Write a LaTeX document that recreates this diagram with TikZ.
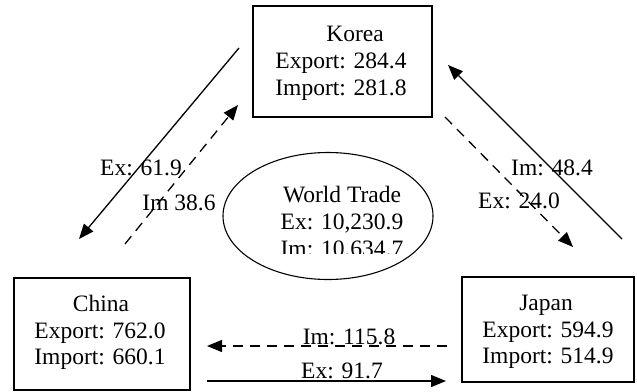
\documentclass[tikz,border=0pt]{standalone}
\usepackage{fontspec}
\setmainfont{Liberation Serif}
\usetikzlibrary{arrows.meta}
\tikzset{
  country/.style={draw, line width=1.1pt, inner sep=0pt},
  txt/.style={font=\fontsize{23.5}{27}\selectfont, inner sep=0pt, anchor=base},
  flow/.style={line width=1.3pt, -{Triangle[length=15pt,width=12pt]}},
  flowdash/.style={flow, dash pattern=on 10pt off 7pt},
}
\begin{document}
\begin{tikzpicture}[x=1pt,y=-1pt]
\useasboundingbox (0,0) rectangle (637,391);
% country boxes
\draw[country] (253,6) rectangle (432,117);
\draw[country] (14,278) rectangle (190,390);
\draw[country] (462,277) rectangle (634,382);
% box texts
\node[txt] (kt) at (355,41) {Korea};
\node[txt] (ke) at (341,68) {Export: 284.4};
\node[txt] (ki) at (341,95) {Import: 281.8};
\node[txt] (ct) at (101,311) {China};
\node[txt] (ce) at (100,338) {Export: 762.0};
\node[txt] (ci) at (100,364) {Import: 660.1};
\node[txt] (jt) at (546,310) {Japan};
\node[txt] (je) at (548,337) {Export: 594.9};
\node[txt] (ji) at (548,363) {Import: 514.9};
% world trade ellipse
\draw[line width=1.1pt] (328,216) ellipse [x radius=105, y radius=63.5];
\node[txt] (wt) at (342,202) {World Trade};
\node[txt] (we) at (342,229) {Ex: 10,230.9};
\begin{scope}
  \clip (260,235) rectangle (425,253);
  \node[txt] (wi) at (342,256) {Im: 10,634.7};
\end{scope}
% flow end points
\coordinate (kc1) at (239,48);
\coordinate (kc2) at (79,239);
\coordinate (ck1) at (125,244);
\coordinate (ck2) at (238,105);
\coordinate (jk1) at (622,239);
\coordinate (jk2) at (448,65);
\coordinate (kj1) at (445,117);
\coordinate (kj2) at (573,247);
\coordinate (jc1) at (447,346);
\coordinate (jc2) at (207,346);
\coordinate (cj1) at (207,381);
\coordinate (cj2) at (446,381);
% flows
\draw[flow] (kc1) -- (kc2);
\draw[flowdash] (ck1) -- (ck2);
\draw[flow] (jk1) -- (jk2);
\draw[flowdash] (kj1) -- (kj2);
\draw[flowdash] (jc1) -- (jc2);
\draw[flow] (cj1) -- (cj2);
% flow labels
\node[txt] (l1) at (141,175) {Ex: 61.9};
\node[txt] (l2) at (179,210) {Im 38.6};
\node[txt] (l3) at (552,175) {Im: 48.4};
\node[txt] (l4) at (519,208) {Ex: 24.0};
\node[txt] (l5) at (349,344) {Im: 115.8};
\node[txt] (l6) at (342,378) {Ex: 91.7};
\end{tikzpicture}
\end{document}
